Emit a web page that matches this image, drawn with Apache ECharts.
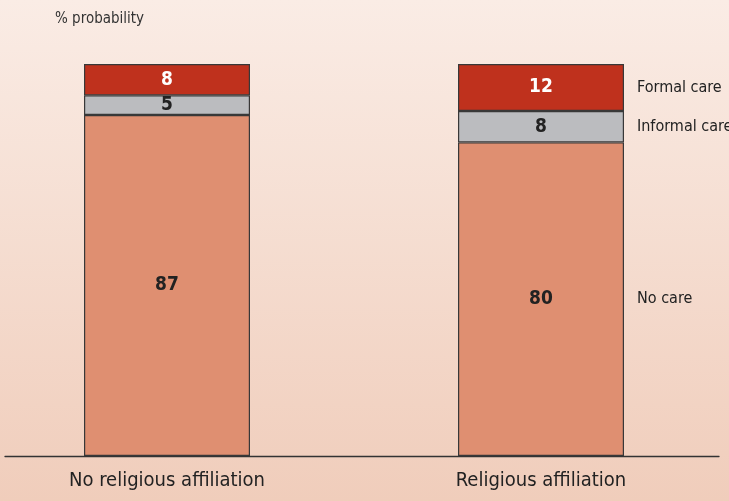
<!DOCTYPE html>
<html>
<head>
<meta charset="utf-8">
<script src="https://cdn.jsdelivr.net/npm/echarts@6/dist/echarts.min.js"></script>
<style>
  html, body { margin: 0; padding: 0; }
  #chart { width: 729px; height: 501px; }
</style>
</head>
<body>
<div id="chart"></div>
<script>
    // data
    var categories = ['No religious affiliation', 'Religious affiliation'];
    var noCare = [87, 80];
    var informalCare = [5, 8];
    var formalCare = [8, 12];
    var seriesNames = ['No care', 'Informal care', 'Formal care'];

    var narrow = "'Liberation Sans Narrow', 'DejaVu Sans Condensed', 'Roboto Condensed', sans-serif";
    var myChart = echarts.init(document.getElementById('chart'));

    function barSeries(name, data, color, labelColor) {
        return {
            name: name,
            type: 'bar',
            stack: 'total',
            data: data,
            barWidth: 166,
            itemStyle: { color: color, borderColor: '#383838', borderWidth: 1.2 },
            label: {
                show: true,
                position: 'inside',
                color: labelColor,
                fontSize: 19,
                fontWeight: 'bold',
                fontFamily: "'DejaVu Sans Condensed', 'Liberation Sans Narrow', sans-serif"
            },
            emphasis: { disabled: true }
        };
    }

    var option = {
        backgroundColor: {
            type: 'linear', x: 0, y: 0, x2: 0, y2: 1,
            colorStops: [
                { offset: 0, color: '#faece5' },
                { offset: 1, color: '#f0cdbb' }
            ]
        },
        title: {
            text: '% probability',
            left: 50,
            top: 7,
            textStyle: { fontSize: 15, fontWeight: 'normal', color: '#333', fontFamily: narrow }
        },
        grid: [
            { left: -20, width: 748, top: 64, bottom: 45, outerBoundsMode: 'none', containLabel: false },
            { left: 5, right: 10, top: 64, bottom: 45, outerBoundsMode: 'none', containLabel: false }
        ],
        xAxis: [
            {
                type: 'category',
                gridIndex: 0,
                data: categories,
                axisLine: { show: false },
                axisTick: { show: false },
                axisLabel: { margin: 15, fontSize: 20, color: '#222', fontFamily: narrow }
            },
            {
                type: 'value',
                gridIndex: 1,
                min: 0, max: 1,
                axisLine: { show: true, lineStyle: { color: '#333', width: 1.3 } },
                axisTick: { show: false },
                axisLabel: { show: false },
                splitLine: { show: false }
            }
        ],
        yAxis: [
            { type: 'value', gridIndex: 0, min: 0, max: 100, show: false },
            { type: 'value', gridIndex: 1, min: 0, max: 100, show: false }
        ],
        series: [
            barSeries(seriesNames[0], noCare, '#df8f71', '#222'),
            barSeries(seriesNames[1], informalCare, '#bbbcbf', '#222'),
            barSeries(seriesNames[2], formalCare, '#bf311d', '#fff')
        ]
    };
    myChart.setOption(option);

    // series names at the right of the second bar
    var stacks = [noCare, informalCare, formalCare];
    var base = 0;
    var texts = [];
    for (var i = 0; i < stacks.length; i++) {
        var v = stacks[i][1];
        var mid = base + v / 2;
        base += v;
        var p = myChart.convertToPixel({ gridIndex: 0 }, [categories[1], mid]);
        texts.push({
            type: 'text',
            x: p[0] + 83 + 13,
            y: p[1],
            style: {
                text: seriesNames[i],
                fontSize: 16,
                fontFamily: narrow,
                fill: '#222',
                verticalAlign: 'middle'
            }
        });
    }
    myChart.setOption({ graphic: texts });
</script>
</body>
</html>
